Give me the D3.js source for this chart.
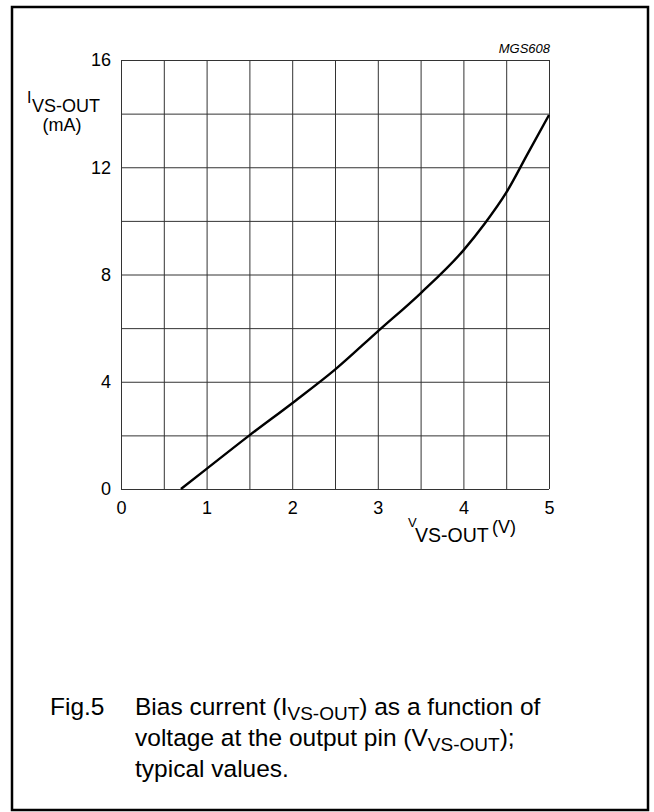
<!DOCTYPE html>
<html>
<head>
<meta charset="utf-8">
<script src="https://cdn.jsdelivr.net/npm/d3@7"></script>
<style>
  body { margin: 0; background: #fff; }
  text { font-family: "Liberation Sans", Arial, sans-serif; fill: #000; }
</style>
</head>
<body>
<div id="chart"></div>
<script>
// Curve: V_VS-OUT (V) vs I_VS-OUT (mA)
var vOut = [0.70, 1.0, 1.5, 2.0, 2.5, 3.0, 3.5, 4.0, 4.25, 4.5, 4.75, 5.0];
var iOut = [0.0, 0.75, 2.0, 3.2, 4.45, 5.88, 7.3, 8.9, 9.9, 11.05, 12.5, 13.95];

// grid / tick values
var xGrid = [0, 0.5, 1, 1.5, 2, 2.5, 3, 3.5, 4, 4.5, 5];
var xLabels = [0, 1, 2, 3, 4, 5];
var yGrid = [0, 2, 4, 6, 8, 10, 12, 14, 16];
var yLabels = [0, 4, 8, 12, 16];

var svgWidth = 654;
var svgHeight = 812;

var chartMargin = { top: 60, left: 121 };
var chartWidth = 428;
var chartHeight = 429;

var svg = d3.select("#chart")
    .append("svg")
    .attr("width", svgWidth)
    .attr("height", svgHeight);

// outer frame
svg.append("rect")
    .attr("x", 12)
    .attr("y", 7)
    .attr("width", 636)
    .attr("height", 803)
    .attr("fill", "none")
    .attr("stroke", "#000")
    .attr("stroke-width", 2.5);

var chartGroup = svg.append("g")
    .attr("transform", `translate(${chartMargin.left}, ${chartMargin.top})`);

var xScale = d3.scaleLinear().domain([0, 5]).range([0, chartWidth]);
var yScale = d3.scaleLinear().domain([0, 16]).range([chartHeight, 0]);

// x grid + labels
var xAxis = d3.axisBottom(xScale)
    .tickValues(xGrid)
    .tickSize(-chartHeight)
    .tickPadding(12)
    .tickFormat(d => xLabels.indexOf(d) >= 0 ? d : "");

var gx = chartGroup.append("g")
    .attr("transform", `translate(0, ${chartHeight})`)
    .call(xAxis);

// y grid + labels
var yAxis = d3.axisLeft(yScale)
    .tickValues(yGrid)
    .tickSize(-chartWidth)
    .tickPadding(10)
    .tickFormat(d => yLabels.indexOf(d) >= 0 ? d : "");

var gy = chartGroup.append("g")
    .call(yAxis);

[gx, gy].forEach(function(g) {
    g.select(".domain").remove();
    g.selectAll(".tick line")
        .attr("stroke", "#333")
        .attr("stroke-width", 1);
    g.selectAll(".tick text")
        .attr("font-size", "18px")
        .attr("font-family", "Liberation Sans, Arial, sans-serif")
        .attr("fill", "#000");
});

// the curve
var points = vOut.map((v, i) => [v, iOut[i]]);
var line = d3.line()
    .x(d => xScale(d[0]))
    .y(d => yScale(d[1]))
    .curve(d3.curveMonotoneX);

chartGroup.append("path")
    .datum(points)
    .attr("d", line)
    .attr("fill", "none")
    .attr("stroke", "#000")
    .attr("stroke-width", 2.4);

// figure code
svg.append("text")
    .attr("x", 550)
    .attr("y", 53)
    .attr("text-anchor", "end")
    .attr("font-size", "13px")
    .attr("font-style", "italic")
    .text("MGS608");

// y axis label
svg.append("text")
    .attr("x", 27)
    .attr("y", 103)
    .attr("font-size", "16px")
    .text("I");
svg.append("text")
    .attr("x", 32)
    .attr("y", 112)
    .attr("font-size", "18px")
    .text("VS-OUT");
svg.append("text")
    .attr("x", 62)
    .attr("y", 131)
    .attr("text-anchor", "middle")
    .attr("font-size", "18px")
    .text("(mA)");

// x axis label
svg.append("text")
    .attr("x", 408)
    .attr("y", 527)
    .attr("font-size", "13px")
    .text("V");
svg.append("text")
    .attr("x", 415)
    .attr("y", 542)
    .attr("font-size", "19.5px")
    .text("VS-OUT");
svg.append("text")
    .attr("x", 492)
    .attr("y", 533)
    .attr("font-size", "18px")
    .text("(V)");

// caption
var caption = svg.append("g");
caption.append("text")
    .attr("x", 50)
    .attr("y", 715)
    .attr("font-size", "24.5px")
    .text("Fig.5");

var capLines = [
    [["Bias current (I", false], ["VS-OUT", true], [") as a function of", false]],
    [["voltage at the output pin (V", false], ["VS-OUT", true], [");", false]],
    [["typical values.", false]]
];

capLines.forEach(function(parts, i) {
    var t = caption.append("text")
        .attr("x", 135)
        .attr("y", 715 + i * 31)
        .attr("font-size", "24.5px");
    parts.forEach(function(p) {
        var ts = t.append("tspan").text(p[0]);
        if (p[1]) {
            ts.attr("font-size", "19px").attr("dy", 5);
        } else if (ts.node().previousSibling) {
            ts.attr("dy", -5);
        }
    });
});
</script>
</body>
</html>
